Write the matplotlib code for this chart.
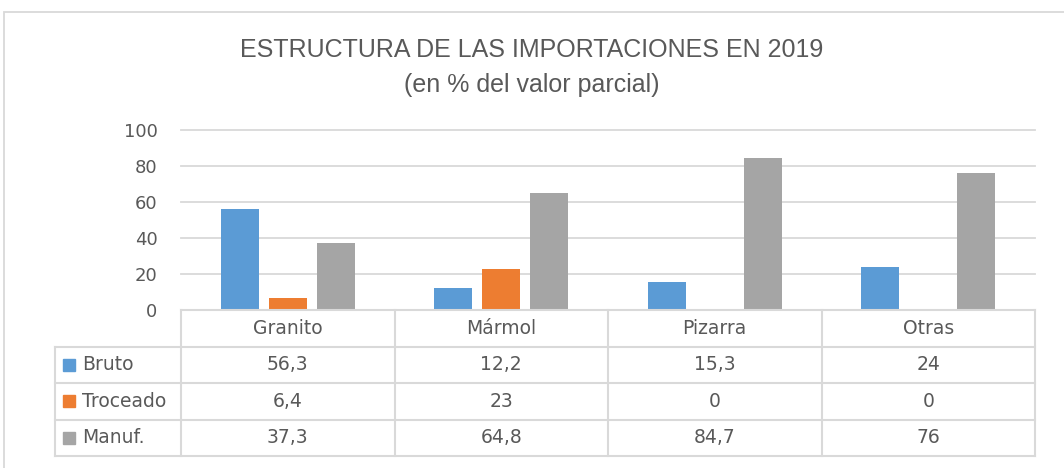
import matplotlib
matplotlib.use("Agg")
import matplotlib.pyplot as plt
from matplotlib.patches import Rectangle
import numpy as np

categories = ["Granito", "Mármol", "Pizarra", "Otras"]
series_names = ["Bruto", "Troceado", "Manuf."]
bruto = [56.3, 12.2, 15.3, 24]
troceado = [6.4, 23, 0, 0]
manuf = [37.3, 64.8, 84.7, 76]
table_text = [["56,3", "12,2", "15,3", "24"],
              ["6,4", "23", "0", "0"],
              ["37,3", "64,8", "84,7", "76"]]
yticks = [0, 20, 40, 60, 80, 100]
colors = ["#5B9BD5", "#ED7D31", "#A5A5A5"]
title1 = "ESTRUCTURA DE LAS IMPORTACIONES EN 2019"
title2 = "(en % del valor parcial)"

W, H = 1064, 468
fig = plt.figure(figsize=(W / 100, H / 100), dpi=100)
txtc = "#595959"
gridc = "#D9D9D9"
font = ["Verdana", "DejaVu Sans"]
tfont = ["Liberation Sans", "DejaVu Sans"]
fs = 13.5

def px(x0, y0, x1, y1):
    return [x0 / W, 1 - y1 / H, (x1 - x0) / W, (y1 - y0) / H]

# outer chart frame
fig.patches.append(Rectangle((4 / W, -0.05), 1.2, 1 - 12 / H + 0.05, transform=fig.transFigure,
                             fill=False, edgecolor=gridc, lw=1.3))

ax = fig.add_axes(px(181, 130, 1035, 310))
n = len(categories)
x = np.arange(n)
bw = 0.178
step = 0.225
for i, vals in enumerate([bruto, troceado, manuf]):
    ax.bar(x + (i - 1) * step, vals, width=bw, color=colors[i], zorder=3)
ax.set_xlim(-0.5, n - 0.5)
ax.set_ylim(0, 100)
ax.set_yticks(yticks)
ax.set_yticklabels([str(v) for v in yticks], fontsize=13, color=txtc, family=font)
ax.tick_params(axis="y", length=0, pad=17)
ax.set_xticks([])
for s in ax.spines.values():
    s.set_visible(False)
ax.grid(axis="y", color=gridc, lw=1.3, zorder=0, clip_on=False)

fig.text(0.5, 1 - 50 / H, title1, ha="center", va="center",
         fontsize=18, color=txtc, family=tfont)
fig.text(0.5, 1 - 85 / H, title2, ha="center", va="center",
         fontsize=18, color=txtc, family=tfont)

# data table
tax = fig.add_axes(px(55, 310, 1035, 456))
left = -0.5 - (181 - 55) / ((1035 - 181) / n)
tax.set_xlim(left, n - 0.5)
tax.set_ylim(4, 0)
tax.axis("off")
lw = 1.5
tax.plot([-0.5, n - 0.5], [0, 0], color=gridc, lw=lw, clip_on=False)
for k in range(n + 1):
    tax.plot([k - 0.5, k - 0.5], [0, 4], color=gridc, lw=lw, clip_on=False)
for r in range(1, 5):
    tax.plot([left, n - 0.5], [r, r], color=gridc, lw=lw, clip_on=False)
tax.plot([left, left], [1, 4], color=gridc, lw=lw, clip_on=False)
for k, c in enumerate(categories):
    tax.text(k, 0.5, c, ha="center", va="center", fontsize=fs, color=txtc, family=font)
for r in range(3):
    for k in range(n):
        tax.text(k, r + 1.5, table_text[r][k], ha="center", va="center", fontsize=fs,
                 color=txtc, family=font)
    kx = left + 8 / 213.5
    tax.add_patch(Rectangle((kx, r + 1.5 - 0.17), 12 / 213.5, 0.34, color=colors[r], clip_on=False))
    tax.text(left + 27 / 213.5, r + 1.5, series_names[r], ha="left", va="center", fontsize=fs,
             color=txtc, family=font)

fig.savefig("out.png", dpi=100)
